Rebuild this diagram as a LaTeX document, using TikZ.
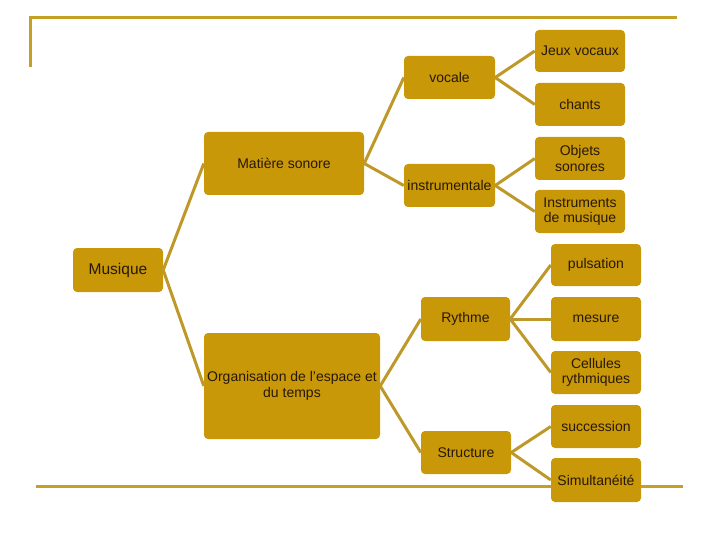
\documentclass[tikz,border=0pt]{standalone}
\usepackage{fontspec}
\setmainfont{Liberation Sans}
\definecolor{boxgold}{RGB}{200,152,8}
\definecolor{linegold}{RGB}{190,152,40}
\definecolor{decogold}{RGB}{196,160,36}
\definecolor{txt}{RGB}{40,24,6}
\begin{document}
\begin{tikzpicture}[x=1pt,y=-1pt,
  gbox/.style={fill=boxgold, draw=none, rounded corners=4pt, inner sep=0pt,
    text=txt, align=center, font=\fontsize{14}{15.5}\selectfont},
  conn/.style={draw=linegold, line width=3pt},
  deco/.style={draw=decogold, line width=3pt}]
\useasboundingbox (0,0) rectangle (720,540);
% decorative lines
\draw[deco] (30,67) -- (30,18) -- (677,18);
\draw[deco] (36,486) -- (683,486);
% nodes
\node[gbox, minimum width=90pt, minimum height=44pt, font=\fontsize{15.5}{17}\selectfont] (mus) at (118,270) {Musique};
\node[gbox, minimum width=160pt, minimum height=63pt] (mat) at (284,163.5) {Matière sonore};
\node[gbox, minimum width=176pt, minimum height=106pt] (org) at (292,386) {Organisation de l'espace et\\du temps};
\node[gbox, minimum width=91pt, minimum height=43pt] (voc) at (449.5,77.5) {vocale};
\node[gbox, minimum width=91pt, minimum height=43pt] (ins) at (449.5,185.5) {instrumentale};
\node[gbox, minimum width=89pt, minimum height=44pt] (ryt) at (465.5,319) {Rythme};
\node[gbox, minimum width=90pt, minimum height=43pt] (str) at (466,452.5) {Structure};
\node[gbox, minimum width=90pt, minimum height=42pt] (jeu) at (580,51) {Jeux vocaux};
\node[gbox, minimum width=90pt, minimum height=43pt] (cha) at (580,104.5) {chants};
\node[gbox, minimum width=90pt, minimum height=43pt] (obj) at (580,158.5) {Objets\\sonores};
\node[gbox, minimum width=90pt, minimum height=43pt] (imu) at (580,211.5) {Instruments\\de musique};
\node[gbox, minimum width=90pt, minimum height=42pt] (pul) at (596,265) {pulsation};
\node[gbox, minimum width=90pt, minimum height=44pt] (mes) at (596,319) {mesure};
\node[gbox, minimum width=90pt, minimum height=43pt] (cel) at (596,372.5) {Cellules\\rythmiques};
\node[gbox, minimum width=90pt, minimum height=43pt] (suc) at (596,426.5) {succession};
\node[gbox, minimum width=90pt, minimum height=44pt] (sim) at (596,480) {Simultanéité};
% connectors
\draw[conn] (mus.east) -- (mat.west);
\draw[conn] (mus.east) -- (org.west);
\draw[conn] (mat.east) -- (voc.west);
\draw[conn] (mat.east) -- (ins.west);
\draw[conn] (voc.east) -- (jeu.west);
\draw[conn] (voc.east) -- (cha.west);
\draw[conn] (ins.east) -- (obj.west);
\draw[conn] (ins.east) -- (imu.west);
\draw[conn] (org.east) -- (ryt.west);
\draw[conn] (org.east) -- (str.west);
\draw[conn] (ryt.east) -- (pul.west);
\draw[conn] (ryt.east) -- (mes.west);
\draw[conn] (ryt.east) -- (cel.west);
\draw[conn] (str.east) -- (suc.west);
\draw[conn] (str.east) -- (sim.west);
\end{tikzpicture}
\end{document}
